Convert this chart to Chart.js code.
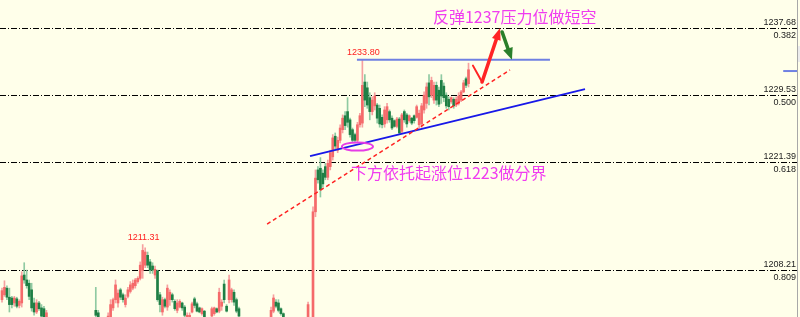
<!DOCTYPE html>
<html>
<head>
<meta charset="utf-8">
<script src="https://cdn.jsdelivr.net/npm/chart.js@4.4.0/dist/chart.umd.min.js"></script>
<style>
html, body { margin: 0; padding: 0; background: #ffffea; }
#wrap { width: 800px; height: 317px; }
</style>
</head>
<body>
<div id="wrap"><canvas id="c" width="800" height="317"></canvas></div>
<script>
// candles (0 = leftmost)
var open = [
  1204.6,1205.2,1206.0,1204.9,1204.8,1204.2,1204.7,1203.9,1204.2,1207.6,
  1207.0,1206.6,1205.8,1204.2,1203.1,1204.2,1203.6,1203.5,1201.9,1202.2,
  1201.2,1200.5,1201.0,1200.7,1199.9,1200.3,1200.9,1200.4,1199.7,1200.0,
  1200.6,1201.0,1200.8,1200.2,1200.7,1201.3,1201.1,1201.6,1203.3,1203.0,
  1202.1,1201.4,1201.8,1201.9,1202.4,1203.6,1204.6,1204.2,1205.8,1205.2,
  1204.0,1205.0,1205.6,1206.0,1206.3,1206.8,1207.2,1208.2,1208.8,1210.0,
  1209.2,1208.7,1207.6,1208.1,1205.2,1203.1,1204.6,1203.7,1204.6,1205.2,
  1204.4,1203.3,1203.7,1204.2,1203.7,1202.1,1202.2,1203.1,1204.7,1204.1,
  1203.6,1202.9,1203.2,1202.3,1201.8,1202.6,1202.9,1203.5,1203.2,1203.8,
  1206.5,1203.8,1204.6,1204.6,1205.5,1204.6,1203.5,1202.3,1201.3,1201.6,
  1201.1,1200.5,1200.9,1201.4,1201.0,1200.6,1201.1,1201.5,1201.9,1202.4,
  1203.2,1204.3,1204.2,1203.5,1202.9,1202.3,1201.5,1201.8,1201.4,1200.9,
  1201.3,1201.7,1201.5,1201.2,1202.4,1201.8,1200.0,1215.3,1220.4,1220.6,
  1220.0,1220.8,1219.5,1220.8,1222.0,1224.5,1222.8,1224.0,1225.3,1227.0,
  1227.5,1226.5,1225.3,1224.7,1224.0,1225.9,1226.1,1231.1,1230.4,1229.2,
  1227.5,1228.2,1228.3,1227.9,1226.8,1226.0,1226.5,1227.5,1226.7,1226.4,
  1225.7,1226.6,1225.1,1227.5,1227.1,1226.4,1226.7,1227.0,1226.8,1225.9,
  1226.0,1227.7,1228.5,1231.0,1229.5,1228.9,1230.7,1230.1,1231.3,1230.6,
  1229.5,1229.0,1228.7,1229.0,1228.3,1228.5,1228.9,1229.9,1231.5,1230.9
];
var high = [
  1206.0,1206.9,1206.3,1206.0,1205.0,1205.0,1204.9,1204.6,1208.0,1209.1,
  1208.2,1207.0,1206.6,1204.8,1204.6,1204.4,1204.0,1203.8,1203.3,1202.4,
  1201.6,1201.4,1201.8,1201.0,1200.6,1201.2,1201.5,1200.8,1200.3,1200.9,
  1201.3,1201.7,1201.2,1201.0,1201.6,1202.0,1201.9,1202.2,1206.1,1203.3,
  1202.3,1202.0,1202.3,1203.0,1204.6,1204.8,1207.0,1205.8,1206.0,1205.4,
  1205.2,1206.1,1206.8,1207.0,1207.2,1207.4,1209.2,1211.31,1210.9,1210.4,
  1209.5,1209.1,1208.7,1208.2,1205.5,1204.9,1204.8,1206.4,1205.8,1205.4,
  1204.6,1204.6,1204.6,1204.3,1203.9,1203.0,1203.0,1204.3,1204.9,1204.3,
  1203.7,1203.6,1203.3,1202.4,1202.3,1203.7,1203.7,1203.6,1206.0,1204.6,
  1207.0,1204.0,1207.6,1206.0,1205.8,1204.8,1203.7,1202.4,1201.9,1202.1,
  1201.5,1201.2,1201.7,1201.9,1201.4,1201.3,1201.8,1202.2,1202.3,1203.7,
  1205.2,1204.6,1204.6,1203.6,1203.0,1202.4,1202.0,1202.2,1201.7,1201.6,
  1202.0,1202.3,1201.9,1202.1,1204.3,1202.2,1215.9,1220.4,1220.8,1221.9,
  1220.4,1221.2,1221.6,1222.8,1224.7,1224.9,1224.4,1225.9,1227.1,1227.5,
  1229.2,1226.7,1225.5,1224.9,1226.2,1227.3,1233.8,1232.0,1231.1,1229.8,
  1229.3,1229.8,1228.5,1228.3,1227.1,1228.1,1228.5,1227.7,1227.0,1226.5,
  1226.8,1226.8,1227.3,1227.7,1227.3,1227.1,1226.8,1227.1,1228.3,1227.7,
  1228.5,1229.9,1231.0,1232.0,1231.7,1231.1,1231.1,1230.5,1232.0,1231.0,
  1229.8,1229.3,1229.3,1229.2,1229.3,1229.8,1230.1,1231.3,1231.7,1233.4
];
var low = [
  1204.3,1205.0,1204.6,1203.1,1203.6,1203.8,1203.6,1203.6,1203.7,1206.6,
  1206.0,1204.6,1203.2,1202.7,1202.9,1203.3,1202.4,1202.1,1201.5,1200.8,
  1200.2,1200.0,1200.4,1199.6,1199.2,1200.0,1200.2,1199.4,1198.9,1199.6,
  1200.1,1200.5,1199.9,1199.8,1200.3,1200.8,1200.6,1200.9,1201.9,1201.5,
  1201.0,1200.8,1201.2,1201.5,1202.1,1203.3,1204.2,1203.7,1204.6,1204.3,
  1203.7,1204.8,1205.4,1205.8,1206.0,1206.6,1207.0,1207.2,1208.5,1208.5,
  1207.8,1207.8,1207.2,1204.4,1203.1,1202.7,1203.6,1203.3,1203.9,1204.3,
  1203.3,1203.0,1203.6,1203.3,1202.5,1201.9,1201.9,1203.0,1203.6,1203.1,
  1203.0,1202.7,1202.4,1201.5,1201.2,1202.4,1202.7,1203.0,1203.0,1203.3,
  1204.2,1203.1,1204.2,1204.3,1203.9,1203.0,1202.5,1201.0,1200.7,1200.9,
  1200.2,1200.1,1200.6,1200.8,1200.3,1200.2,1200.7,1201.0,1201.3,1202.1,
  1203.0,1203.6,1203.1,1202.7,1202.1,1201.2,1200.9,1201.1,1200.6,1200.5,
  1200.9,1201.2,1200.8,1200.9,1201.9,1199.8,1199.5,1214.7,1218.8,1217.1,
  1218.3,1219.2,1219.2,1220.4,1221.6,1222.8,1222.5,1223.7,1224.9,1225.3,
  1225.6,1224.4,1223.8,1223.8,1223.8,1225.6,1225.6,1228.1,1227.9,1226.5,
  1227.1,1227.7,1226.1,1225.6,1225.5,1225.6,1226.1,1226.2,1225.3,1225.6,
  1225.5,1224.7,1224.9,1226.2,1225.6,1226.2,1225.9,1226.1,1226.7,1225.5,
  1225.6,1227.3,1227.9,1228.3,1229.2,1228.5,1228.3,1228.1,1228.5,1228.7,
  1227.9,1227.7,1228.5,1227.9,1228.1,1228.3,1228.7,1229.8,1230.4,1230.5
];
var close = [
  1205.7,1206.1,1204.9,1204.0,1204.0,1204.8,1203.8,1204.4,1207.5,1207.0,
  1206.3,1205.0,1203.6,1203.1,1204.2,1203.5,1202.6,1202.4,1203.0,1201.2,
  1200.5,1201.0,1200.7,1199.9,1200.3,1200.9,1200.4,1199.7,1200.0,1200.6,
  1201.0,1200.8,1200.2,1200.7,1201.3,1201.1,1201.6,1201.2,1202.7,1202.1,
  1201.4,1201.8,1201.5,1202.6,1204.0,1204.6,1206.4,1205.4,1204.9,1204.6,
  1204.8,1205.8,1206.4,1206.6,1207.0,1207.2,1208.8,1210.6,1210.4,1208.8,
  1208.2,1208.2,1208.3,1204.6,1204.0,1204.6,1203.8,1206.0,1205.5,1204.6,
  1203.5,1204.2,1204.4,1203.6,1202.7,1202.7,1202.7,1204.1,1203.9,1203.2,
  1203.1,1203.5,1202.5,1201.8,1202.1,1203.5,1203.6,1203.1,1205.5,1204.3,
  1204.6,1203.2,1207.0,1205.8,1204.3,1203.2,1202.6,1201.3,1201.6,1201.1,
  1200.5,1200.9,1201.4,1201.0,1200.6,1201.1,1201.5,1201.9,1201.6,1203.3,
  1204.8,1203.8,1203.3,1202.9,1202.3,1201.5,1201.8,1201.4,1200.9,1201.3,
  1201.7,1201.5,1201.2,1201.8,1204.0,1200.2,1215.3,1219.4,1219.2,1218.0,
  1218.7,1219.5,1221.2,1222.5,1224.3,1223.3,1224.0,1225.5,1226.7,1225.8,
  1226.2,1224.7,1224.0,1224.0,1225.9,1227.0,1230.7,1228.9,1228.3,1227.5,
  1228.9,1229.4,1226.7,1226.0,1225.9,1227.7,1228.1,1226.5,1225.5,1225.7,
  1226.6,1224.9,1227.1,1226.5,1226.0,1227.0,1226.1,1226.4,1228.1,1227.3,
  1228.2,1229.5,1230.5,1229.3,1231.3,1230.7,1228.9,1228.4,1229.4,1229.2,
  1228.2,1228.1,1229.2,1228.2,1229.0,1229.4,1229.9,1231.0,1230.7,1232.6
];

// fibonacci levels on the right
var fibPrices = [1237.68, 1229.53, 1221.39, 1208.21];
var fibRatios = ['0.382', '0.500', '0.618', '0.809'];

// marked highs
var peakIdx = [57, 146];

var noteTop = '反弹1237压力位做短空';
var noteBottom = '下方依托起涨位1223做分界';

var idx = open.map(function (v, i) { return i; });
var up = idx.map(function (i) { return close[i] >= open[i]; });

function line(ctx, x1, y1, x2, y2) {
  ctx.beginPath();
  ctx.moveTo(x1, y1);
  ctx.lineTo(x2, y2);
  ctx.stroke();
}

function head(ctx, x1, y1, x2, y2, len, half) {
  var dx = x2 - x1, dy = y2 - y1, d = Math.sqrt(dx * dx + dy * dy);
  var ux = dx / d, uy = dy / d;
  var bx = x2 - ux * len, by = y2 - uy * len;
  ctx.beginPath();
  ctx.moveTo(x2, y2);
  ctx.lineTo(bx - uy * half, by + ux * half);
  ctx.lineTo(bx + uy * half, by - ux * half);
  ctx.closePath();
  ctx.fill();
  return [bx, by];
}

var overlay = {
  id: 'overlay',
  beforeDraw: function (chart) {
    var ctx = chart.ctx;
    ctx.save();
    ctx.fillStyle = '#ffffea';
    ctx.fillRect(0, 0, chart.width, chart.height);
    ctx.restore();
  },
  beforeDatasetsDraw: function (chart) {
    var ctx = chart.ctx, ys = chart.scales.y;
    ctx.save();
    ctx.strokeStyle = '#000';
    ctx.lineWidth = 1;
    ctx.setLineDash([6, 2, 1, 2]);
    fibPrices.forEach(function (p) {
      var y = Math.round(ys.getPixelForValue(p)) + 0.5;
      line(ctx, 0, y, 797, y);
    });
    ctx.restore();
  },
  afterDatasetsDraw: function (chart) {
    var ctx = chart.ctx, xs = chart.scales.x, ys = chart.scales.y;
    function X(v) { return xs.getPixelForValue(v); }
    function Y(v) { return ys.getPixelForValue(v); }
    ctx.save();

    // resistance at the high
    ctx.strokeStyle = '#6f80e2';
    ctx.lineWidth = 2;
    line(ctx, X(143.8), Y(1233.8), X(222.0), Y(1233.8));
    line(ctx, X(316.5), Y(1232.44), X(322.4), Y(1232.44));

    // blue support line
    ctx.strokeStyle = '#1818e8';
    ctx.lineWidth = 1.8;
    line(ctx, X(124.8), Y(1222.09), X(236.2), Y(1230.25));

    // red dashed trend line
    ctx.strokeStyle = '#ff2222';
    ctx.lineWidth = 1.5;
    ctx.setLineDash([4, 3]);
    line(ctx, X(107.4), Y(1213.81), X(205.8), Y(1232.57));
    ctx.setLineDash([]);

    // ellipse
    ctx.strokeStyle = '#e63ce6';
    ctx.lineWidth = 2;
    ctx.beginPath();
    ctx.ellipse(X(144.0), Y(1223.25), X(150.3) - X(144.0), Y(1223.25) - Y(1223.75), 0, 0, Math.PI * 2);
    ctx.stroke();

    // red zigzag arrow
    ctx.strokeStyle = ctx.fillStyle = '#ff2424';
    ctx.lineCap = 'round';
    ctx.lineWidth = 2;
    line(ctx, X(190.8), Y(1233.1), X(194.5), Y(1231.1));
    var b = head(ctx, X(194.5), Y(1231.1), X(201.8), Y(1237.68), 12, 4.5);
    ctx.lineWidth = 3.5;
    line(ctx, X(194.5), Y(1231.1), b[0], b[1]);

    // green arrow
    ctx.strokeStyle = ctx.fillStyle = '#2a7f2a';
    b = head(ctx, X(202.6), Y(1237.2), X(206.6), Y(1233.8), 12, 5);
    ctx.lineWidth = 3.5;
    line(ctx, X(202.6), Y(1237.2), b[0], b[1]);

    // notes
    ctx.fillStyle = '#f03cf0';
    ctx.font = '16px "Noto Sans CJK SC"';
    ctx.textBaseline = 'middle';
    ctx.textAlign = 'left';
    ctx.fillText(noteTop, X(174.6), Y(1239.02));
    ctx.fillText(noteBottom, X(141.4), Y(1220.02));

    // peak labels
    ctx.fillStyle = '#ff2020';
    ctx.font = '9px "Liberation Sans"';
    ctx.textAlign = 'center';
    ctx.textBaseline = 'bottom';
    peakIdx.forEach(function (i) {
      ctx.fillText(high[i].toFixed(2), X(i) + 1, Y(high[i]) - 3);
    });

    // fib labels
    ctx.fillStyle = '#222';
    ctx.textAlign = 'right';
    fibPrices.forEach(function (p, k) {
      var y = Math.round(Y(p));
      ctx.textBaseline = 'bottom';
      ctx.fillText(p.toFixed(2), 796, y - 1);
      ctx.textBaseline = 'top';
      ctx.fillText(fibRatios[k], 796, y + 3);
    });

    // right border and scroll box
    ctx.strokeStyle = '#a8a8a8';
    ctx.lineWidth = 1;
    line(ctx, 797.5, 0, 797.5, chart.height);
    ctx.fillStyle = '#ececec';
    ctx.fillRect(798, 46, 2, 16);
    ctx.restore();
  }
};

new Chart(document.getElementById('c'), {
  type: 'bar',
  data: {
    datasets: [
      {
        data: idx.map(function (i) { return { x: i, y: [low[i], high[i]] }; }),
        backgroundColor: idx.map(function (i) { return up[i] ? '#f6a0a0' : '#8fcaa2'; }),
        barThickness: 1,
        grouped: false,
        order: 2
      },
      {
        data: idx.map(function (i) { return { x: i, y: [open[i], close[i]] }; }),
        backgroundColor: idx.map(function (i) { return up[i] ? '#f56a6a' : '#1f7f45'; }),
        barThickness: 2,
        minBarLength: 1,
        grouped: false,
        order: 1
      }
    ]
  },
  options: {
    responsive: false,
    animation: false,
    events: [],
    layout: { padding: 0 },
    plugins: { legend: { display: false }, tooltip: { enabled: false } },
    scales: {
      x: { type: 'linear', display: false, offset: false, min: -0.81, max: 323.3 },
      y: { display: false, min: 1202.49, max: 1241.09 }
    }
  },
  plugins: [overlay]
});
</script>
</body>
</html>
